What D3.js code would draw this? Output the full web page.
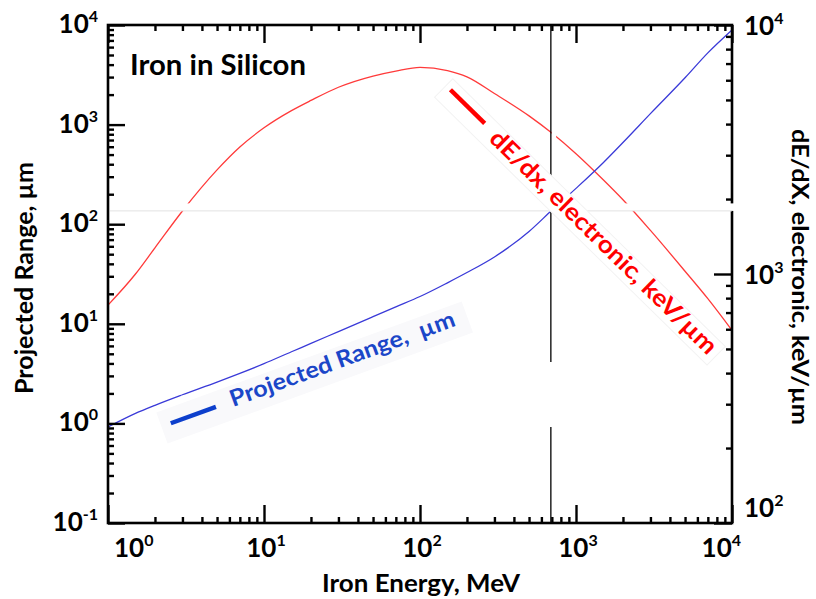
<!DOCTYPE html>
<html>
<head>
<meta charset="utf-8">
<script src="https://cdn.jsdelivr.net/npm/d3@7"></script>
<style>
  body { margin: 0; background: #fff; }
  svg text { font-family: Lato, "Open Sans", sans-serif; }
</style>
</head>
<body>
<svg id="chart" width="816" height="599"></svg>
<script>
// Iron ion energy, MeV
const energy = [1, 1.5, 2, 3, 5, 7, 10, 15, 20, 30, 50, 70, 100, 150, 200, 300, 500, 700, 1000, 1500, 2000, 3000, 5000, 7000, 10000];
// Projected range in silicon, µm
const projectedRange = [0.92, 1.26, 1.52, 1.94, 2.60, 3.18, 3.98, 5.24, 6.35, 8.36, 11.8, 14.8, 18.8, 25.8, 32.7, 46.9, 84.5, 138, 229, 417, 661, 1288, 2951, 5248, 8913];
// Electronic stopping power, keV/µm
const dedxElectronic = [750, 1000, 1274, 1791, 2618, 3236, 3864, 4529, 4977, 5623, 6237, 6531, 6761, 6561, 6194, 5309, 4315, 3681, 3041, 2384, 1986, 1496, 1026, 796, 594];

// Decade exponents labelled on each axis
const energyPowers = [0, 1, 2, 3, 4];
const rangePowers = [-1, 0, 1, 2, 3, 4];
const dedxPowers = [2, 3, 4];

// Reference point: energy and matching range
const markerEnergy = 690;
const markerRange = 136;

const svg = d3.select("#chart");
const L = 108, R = 732, T = 25, B = 523;

const x = d3.scaleLog().domain([1, 1e4]).range([L, R]);
const yL = d3.scaleLog().domain([0.1, 1e4]).range([B, T]);
const yR = d3.scaleLog().domain([100, 1e4]).range([B, T]);

const rows = energy.map((e, i) => ({ e, r: projectedRange[i], s: dedxElectronic[i] }));

// curves
const rangeLine = d3.line().x(d => x(d.e)).y(d => yL(d.r)).curve(d3.curveMonotoneX);
const dedxLine = d3.line().x(d => x(d.e)).y(d => yR(d.s)).curve(d3.curveMonotoneX);

svg.append("path").datum(rows).attr("d", dedxLine)
  .attr("fill", "none").attr("stroke", "#ff3a3a").attr("stroke-width", 1.3);
svg.append("path").datum(rows).attr("d", rangeLine)
  .attr("fill", "none").attr("stroke", "#3a3ad8").attr("stroke-width", 1.3);

// vertical reference line at the marker energy
const mx = x(markerEnergy);
svg.append("rect").attr("x", mx + 0.8).attr("y", T).attr("width", 4.5).attr("height", B - T).attr("fill", "#fff");
svg.append("line").attr("x1", mx).attr("x2", mx).attr("y1", T).attr("y2", B)
  .attr("stroke", "#000").attr("stroke-width", 1.3);
svg.append("rect").attr("x", mx - 3).attr("y", 362).attr("width", 6).attr("height", 65).attr("fill", "#fff");

// axes: inward ticks, minor ticks on every 2..9 multiple
const isPow = v => Math.abs(Math.log10(v) - Math.round(Math.log10(v))) < 1e-9;
const xMinor = x.ticks().filter(v => !isPow(v));
const xMajor = energyPowers.map(p => Math.pow(10, p));
const yLMinor = yL.ticks().filter(v => !isPow(v));
const yLMajor = rangePowers.map(p => Math.pow(10, p));
const yRMinor = yR.ticks().filter(v => !isPow(v));
const yRMajor = dedxPowers.map(p => Math.pow(10, p));

function ticks(gen, tr, values, size) {
  svg.append("g").attr("transform", tr)
    .call(gen.tickValues(values).tickSize(size).tickSizeOuter(0).tickFormat(""))
    .call(s => s.select(".domain").remove())
    .selectAll("line").attr("stroke", "#000").attr("stroke-width", 2.4);
}
ticks(d3.axisBottom(x), `translate(0,${B})`, xMinor, -6);
ticks(d3.axisBottom(x), `translate(0,${B})`, xMajor, -18);
ticks(d3.axisTop(x), `translate(0,${T})`, xMinor, -6);
ticks(d3.axisTop(x), `translate(0,${T})`, xMajor, -18);
ticks(d3.axisLeft(yL), `translate(${L},0)`, yLMinor, -6);
ticks(d3.axisLeft(yL), `translate(${L},0)`, yLMajor, -17);
ticks(d3.axisRight(yR), `translate(${R},0)`, yRMinor, -6);
ticks(d3.axisRight(yR), `translate(${R},0)`, yRMajor, -18);

svg.append("rect").attr("x", L).attr("y", T).attr("width", R - L).attr("height", B - T)
  .attr("fill", "none").attr("stroke", "#000").attr("stroke-width", 2.6);

// horizontal reference line at the marker range
const my = yL(markerRange);
svg.append("rect").attr("x", L + 2).attr("y", my - 7.5).attr("width", R - L + 3).attr("height", 7.5).attr("fill", "#fff");
svg.append("line").attr("x1", L + 2).attr("x2", R).attr("y1", my).attr("y2", my)
  .attr("stroke", "#e2e2e2").attr("stroke-width", 1);

// power-of-ten tick labels
function powLabel(xp, yp, p, anchor) {
  const t = svg.append("text").attr("x", xp).attr("y", yp)
    .attr("text-anchor", anchor).attr("font-weight", 700).attr("font-size", 26).attr("fill", "#000");
  t.append("tspan").text("10");
  t.append("tspan").attr("font-size", 16).attr("dy", -11).text(String(p));
}
energyPowers.forEach((p, i) => {
  const v = Math.pow(10, p);
  const last = energyPowers.length - 1;
  const anchor = i === 0 ? "start" : (i === last ? "end" : "middle");
  const xp = i === 0 ? x(v) + 6 : (i === last ? x(v) + 9 : x(v) + 2);
  powLabel(xp, 557, p, anchor);
});
rangePowers.forEach(p => powLabel(98, yL(Math.pow(10, p)) + 8, p, "end"));
dedxPowers.forEach((p, i) => {
  const v = Math.pow(10, p);
  powLabel(744, yR(v) + (i === 0 ? -6 : 10), p, "start");
});

// axis titles
svg.append("text").attr("x", 421).attr("y", 592).attr("text-anchor", "middle")
  .attr("font-weight", 700).attr("font-size", 25)
  .attr("textLength", 198).attr("lengthAdjust", "spacingAndGlyphs").text("Iron Energy, MeV");
svg.append("text").attr("transform", `translate(33,${(T + B) / 2 + 4}) rotate(-90)`)
  .attr("text-anchor", "middle").attr("font-weight", 700).attr("font-size", 25)
  .attr("textLength", 232).attr("lengthAdjust", "spacingAndGlyphs").text("Projected Range, µm");
svg.append("text").attr("transform", `translate(792,${(T + B) / 2 + 3}) rotate(90)`)
  .attr("text-anchor", "middle").attr("font-weight", 700).attr("font-size", 23)
  .attr("textLength", 296).attr("lengthAdjust", "spacingAndGlyphs").text("dE/dX, electronic, keV/µm");

// chart title
svg.append("text").attr("x", 130).attr("y", 75).attr("font-weight", 700).attr("font-size", 28)
  .attr("textLength", 176).attr("lengthAdjust", "spacingAndGlyphs").text("Iron in Silicon");

// in-plot series labels
const dedxTag = svg.append("g").attr("transform", "translate(488,140) rotate(44.5)");
dedxTag.append("rect").attr("x", -68).attr("y", -19).attr("width", 382).attr("height", 26)
  .attr("fill", "#fff").attr("stroke", "#f3f3f3");
dedxTag.append("line").attr("x1", -62).attr("x2", -14).attr("y1", -9.5).attr("y2", -9.5)
  .attr("stroke", "#ff0000").attr("stroke-width", 4.5);
dedxTag.append("text").attr("x", 0).attr("y", 0).attr("font-weight", 700).attr("font-size", 24)
  .attr("fill", "#ff0000").attr("textLength", 308).attr("lengthAdjust", "spacingAndGlyphs")
  .text("dE/dx, electronic, keV/µm");

const rangeTag = svg.append("g").attr("transform", "translate(233,407) rotate(-20)");
rangeTag.append("rect").attr("x", -74).attr("y", -21).attr("width", 325).attr("height", 33)
  .attr("fill", "#f9f9fb");
rangeTag.append("line").attr("x1", -64).attr("x2", -16).attr("y1", -6).attr("y2", -6)
  .attr("stroke", "#0d3fcc").attr("stroke-width", 4.5);
rangeTag.append("text").attr("x", 0).attr("y", 0).attr("font-weight", 700).attr("font-size", 23)
  .attr("fill", "#1b46c8").attr("textLength", 238).attr("lengthAdjust", "spacingAndGlyphs")
  .style("white-space", "pre").text("Projected Range,  µm");
</script>
</body>
</html>
